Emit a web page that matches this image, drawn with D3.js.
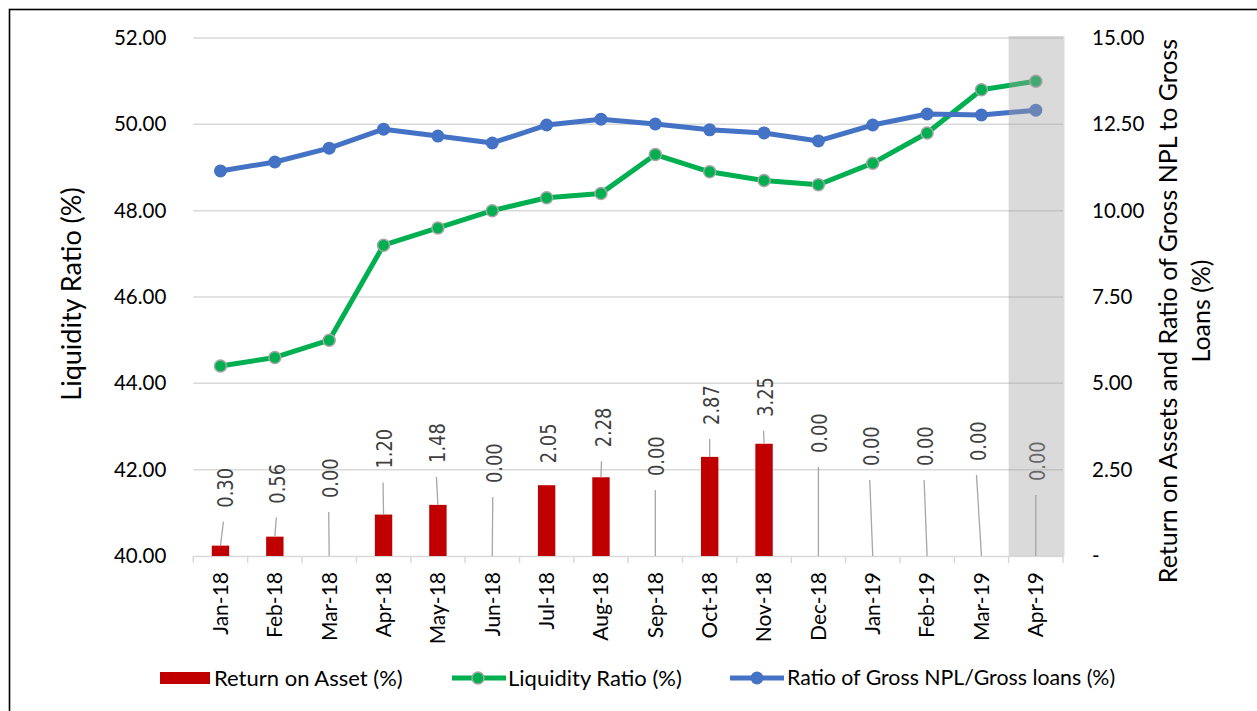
<!DOCTYPE html>
<html>
<head>
<meta charset="utf-8">
<script src="https://cdn.jsdelivr.net/npm/d3@7"></script>
<style>
  body { margin: 0; background: #fff; }
  text { font-family: Lato, "Open Sans", sans-serif; }
</style>
</head>
<body>
<svg id="svg" width="1257" height="711"></svg>
<script>
const months = ['Jan-18', 'Feb-18', 'Mar-18', 'Apr-18', 'May-18', 'Jun-18', 'Jul-18', 'Aug-18',
    'Sep-18', 'Oct-18', 'Nov-18', 'Dec-18', 'Jan-19', 'Feb-19', 'Mar-19', 'Apr-19']
const roa = [0.30, 0.56, 0, 1.20, 1.48, 0, 2.05, 2.28, 0, 2.87, 3.25, 0, 0, 0, 0, 0]
const liquidity = [44.4, 44.6, 45.0, 47.2, 47.6, 48.0, 48.3, 48.4, 49.3, 48.9, 48.7, 48.6, 49.1, 49.8, 50.8, 51.0]
const npl = [11.15, 11.41, 11.81, 12.36, 12.16, 11.96, 12.48, 12.65, 12.51, 12.34, 12.25, 12.02, 12.48, 12.80, 12.77, 12.91]
const leftTicks = [40, 42, 44, 46, 48, 50, 52]
const rightTicks = [0, 2.5, 5, 7.5, 10, 12.5, 15]
const highlight = 'Apr-19'

// where excel left the data labels (px above bar top, px right of bar centre)
const labelLift = [38, 33, 58, 46, 42, 73, 22, 30, 80, 32, 27, 103, 90, 90, 95, 75]
const labelShift = [4.5, 3, 1, 1, 0, 2, 2, 2, 1.5, 1.5, 1, 1.5, -1.5, -1.5, -3.5, 1.5]

const svg = d3.select('#svg')

const margin = { top: 38, bottom: 155, left: 193.3, right: 194 }
const width = +svg.attr('width')
const height = +svg.attr('height')
const plotBottom = height - margin.bottom   // 556
const plotRight = width - margin.right      // 1063

const x = d3.scaleBand().domain(months).range([margin.left, plotRight]).padding(0)
const yL = d3.scaleLinear().domain([40, 52]).range([plotBottom, margin.top])
const yR = d3.scaleLinear().domain([0, 15]).range([plotBottom, margin.top])
const cx = d => x(d) + x.bandwidth() / 2

// outer border
svg.append('rect')
    .attr('x', 9.5).attr('y', 9.5)
    .attr('width', 1300).attr('height', 800)
    .attr('fill', 'none').attr('stroke', '#000').attr('stroke-width', 1.6)

// gridlines
svg.append('g').selectAll('line')
    .data(leftTicks.slice(1))
    .join('line')
    .attr('x1', margin.left).attr('x2', plotRight)
    .attr('y1', d => yL(d)).attr('y2', d => yL(d))
    .attr('stroke', '#d9d9d9').attr('stroke-width', 1.5)

// left axis
const leftAxis = svg.append('g')
    .attr('transform', `translate(${margin.left},0)`)
    .call(d3.axisLeft(yL).tickValues(leftTicks).tickFormat(d3.format('.2f')).tickSize(0).tickPadding(27))
leftAxis.select('.domain').remove()
leftAxis.selectAll('text').attr('font-size', 20.5).attr('fill', '#000').style('font-family', 'Lato')

// right axis
const rightAxis = svg.append('g')
    .attr('transform', `translate(${plotRight},0)`)
    .call(d3.axisRight(yR).tickValues(rightTicks)
        .tickFormat(d => d === 0 ? '-' : d3.format('.2f')(d)).tickSize(0).tickPadding(29))
rightAxis.select('.domain').remove()
rightAxis.selectAll('text').attr('font-size', 20.5).attr('fill', '#000').style('font-family', 'Lato')

// x axis
const xAxis = svg.append('g')
    .attr('transform', `translate(0,${plotBottom})`)
    .call(d3.axisBottom(x).tickSize(0))
xAxis.select('.domain').attr('stroke', '#d9d9d9').attr('stroke-width', 1.5)
xAxis.selectAll('text')
    .attr('transform', 'rotate(-90)')
    .attr('x', -16).attr('y', 0).attr('dy', '0.35em')
    .style('text-anchor', 'end')
    .style('font-family', 'Lato')
    .attr('font-size', 21).attr('fill', '#000')
xAxis.append('g').selectAll('line')
    .data(months.concat(['end']))
    .join('line')
    .attr('x1', (d, i) => margin.left + i * x.step())
    .attr('x2', (d, i) => margin.left + i * x.step())
    .attr('y1', 0).attr('y2', 7)
    .attr('stroke', '#d9d9d9').attr('stroke-width', 1.5)

// bars
const barW = x.bandwidth() * 0.32
svg.append('g').selectAll('rect')
    .data(roa)
    .join('rect')
    .attr('x', (d, i) => cx(months[i]) - barW / 2)
    .attr('y', d => yR(d))
    .attr('width', barW)
    .attr('height', d => plotBottom - yR(d))
    .attr('fill', '#c00000')

// data labels with leader lines
const labels = svg.append('g')
roa.forEach((v, i) => {
    const bx = cx(months[i])
    const top = yR(v)
    const lx = bx + labelShift[i]
    const ly = top - labelLift[i]
    if (labelLift[i] > 25) {
        labels.append('line')
            .attr('x1', bx).attr('y1', top)
            .attr('x2', lx - 1.5).attr('y2', ly + 14)
            .attr('stroke', '#a6a6a6').attr('stroke-width', 1.3)
    }
    labels.append('text')
        .text(d3.format('.2f')(v))
        .attr('transform', `translate(${lx},${ly}) rotate(-90) scale(0.85,1)`)
        .attr('dy', '0.36em')
        .attr('font-size', 21)
        .attr('fill', '#404040')
        .style('font-family', 'DejaVu Sans')
})

// liquidity line
const lineL = d3.line().x((d, i) => cx(months[i])).y(d => yL(d))
svg.append('path')
    .datum(liquidity)
    .attr('d', lineL)
    .attr('fill', 'none').attr('stroke', '#00b050').attr('stroke-width', 5)
    .attr('stroke-linejoin', 'round')
svg.append('g').selectAll('circle')
    .data(liquidity)
    .join('circle')
    .attr('cx', (d, i) => cx(months[i])).attr('cy', d => yL(d))
    .attr('r', 6)
    .attr('fill', '#00b050').attr('stroke', '#a5a5a5').attr('stroke-width', 1.5)

// npl line
const lineR = d3.line().x((d, i) => cx(months[i])).y(d => yR(d))
svg.append('path')
    .datum(npl)
    .attr('d', lineR)
    .attr('fill', 'none').attr('stroke', '#4472c4').attr('stroke-width', 5)
    .attr('stroke-linejoin', 'round')
svg.append('g').selectAll('circle')
    .data(npl)
    .join('circle')
    .attr('cx', (d, i) => cx(months[i])).attr('cy', d => yR(d))
    .attr('r', 6.5)
    .attr('fill', '#4472c4')

// shaded latest month
svg.append('rect')
    .attr('x', x(highlight)).attr('y', margin.top - 2)
    .attr('width', x.step() + 1.5).attr('height', plotBottom - margin.top + 2)
    .attr('fill', '#a2a2a2').attr('opacity', 0.4)

// axis titles
svg.append('text')
    .text('Liquidity Ratio (%)')
    .attr('transform', `translate(72,294) rotate(-90)`)
    .attr('text-anchor', 'middle').attr('dy', '0.35em')
    .attr('font-size', 27)

const rTitle = svg.append('text')
    .attr('transform', `translate(1168,311) rotate(-90)`)
    .attr('text-anchor', 'middle')
    .attr('font-size', 25)
rTitle.append('tspan').attr('x', 0).attr('dy', '0.35em').text('Return on Assets and Ratio of Gross NPL to Gross')
rTitle.append('tspan').attr('x', 0).attr('dy', 33).text('Loans (%)')

// legend
const legend = svg.append('g').attr('transform', 'translate(0,678)')
legend.append('rect').attr('x', 160).attr('y', -6).attr('width', 50).attr('height', 12).attr('fill', '#c00000')
legend.append('text').text('Return on Asset (%)').attr('x', 214).attr('dy', '0.35em').attr('font-size', 22)

legend.append('line').attr('x1', 452).attr('x2', 506).attr('stroke', '#00b050').attr('stroke-width', 5)
legend.append('circle').attr('cx', 478).attr('r', 6).attr('fill', '#00b050').attr('stroke', '#a5a5a5').attr('stroke-width', 1.5)
legend.append('text').text('Liquidity Ratio (%)').attr('x', 508).attr('dy', '0.35em').attr('font-size', 22)

legend.append('line').attr('x1', 730).attr('x2', 784).attr('stroke', '#4472c4').attr('stroke-width', 5)
legend.append('circle').attr('cx', 757).attr('r', 6.5).attr('fill', '#4472c4')
legend.append('text').text('Ratio of Gross NPL/Gross loans (%)').attr('x', 787).attr('dy', '0.35em').attr('font-size', 21.3)
</script>
</body>
</html>
